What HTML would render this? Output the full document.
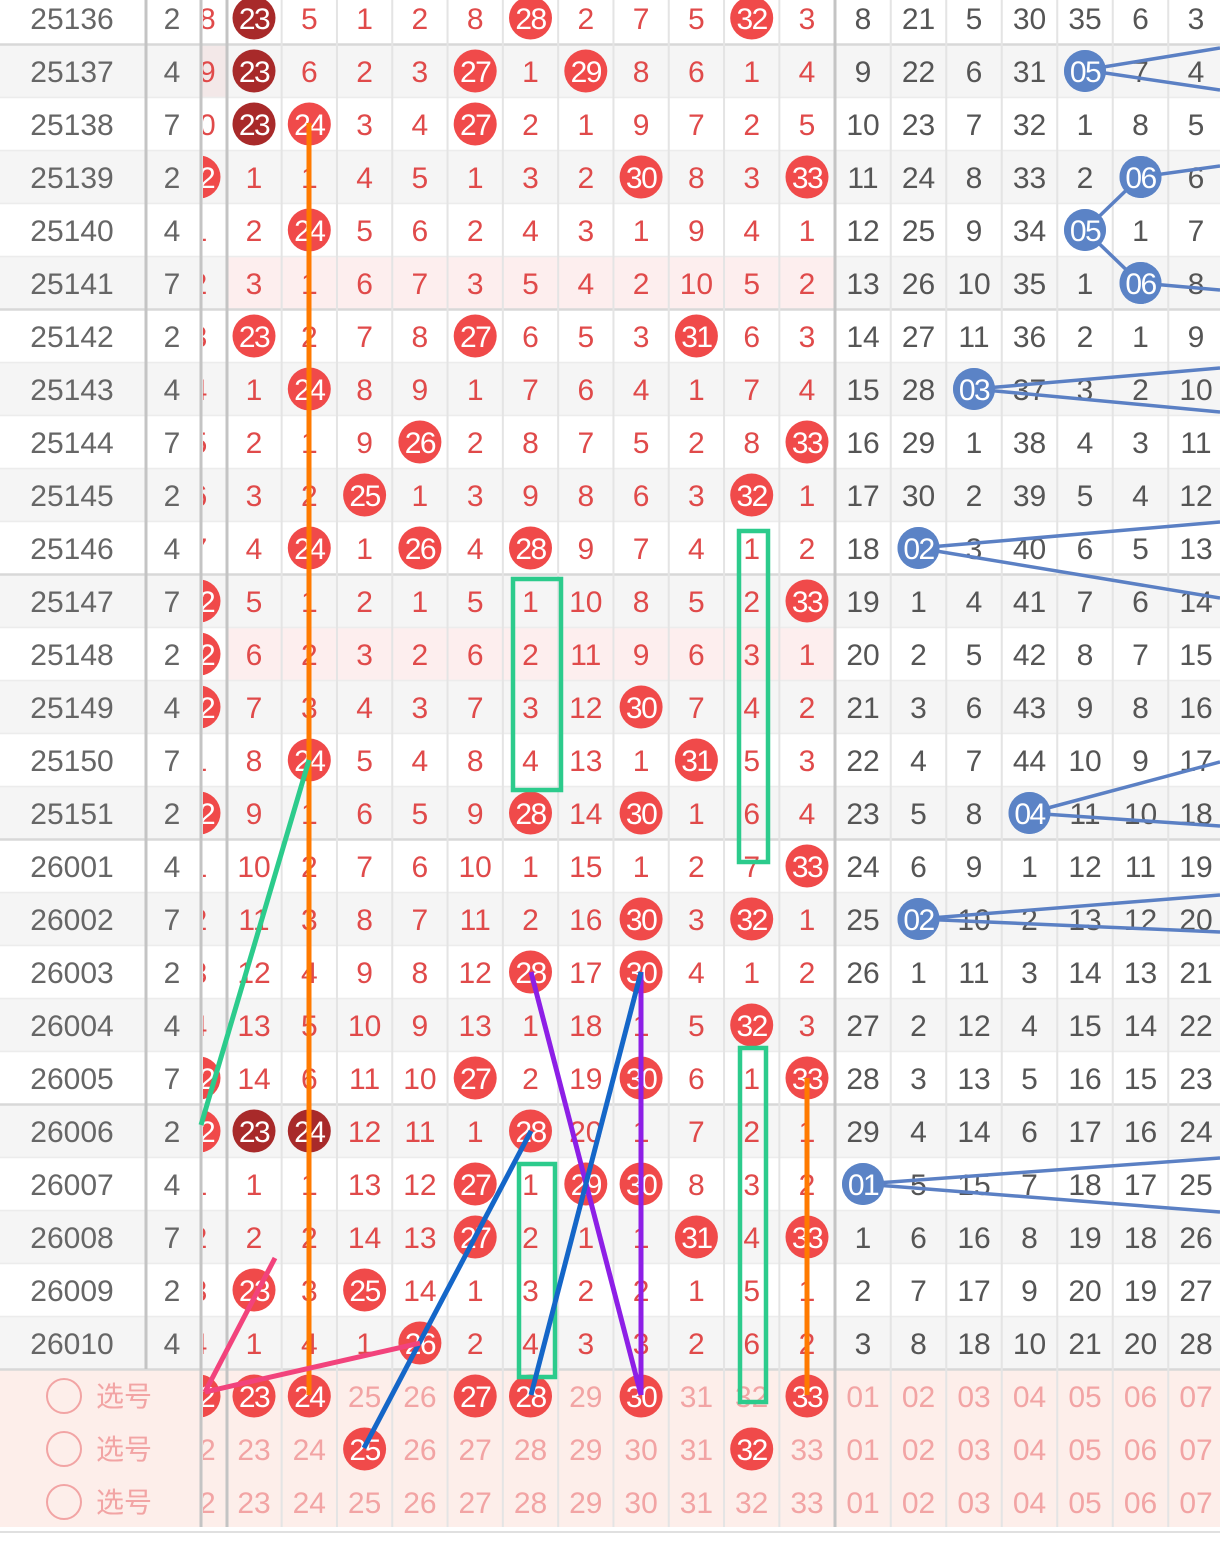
<!DOCTYPE html>
<html><head><meta charset="utf-8">
<style>
html,body{margin:0;padding:0;background:#fff;}
svg{display:block;}
text{font-family:"Liberation Sans","Noto Sans CJK SC",sans-serif;font-size:30px;text-anchor:middle;}
</style></head>
<body>
<svg id="s" width="1220" height="1549" xmlns="http://www.w3.org/2000/svg"></svg>
<script>
const S=document.getElementById('s');
let h='';
const rows=[
["25136","2","18","23#","5","1","2","8","28*","2","7","5","32*","3","8","21","5","30","35","6","3"],
["25137","4","19","23#","6","2","3","27*","1","29*","8","6","1","4","9","22","6","31","05*","7","4"],
["25138","7","20","23#","24*","3","4","27*","2","1","9","7","2","5","10","23","7","32","1","8","5"],
["25139","2","22*","1","1","4","5","1","3","2","30*","8","3","33*","11","24","8","33","2","06*","6"],
["25140","4","1","2","24*","5","6","2","4","3","1","9","4","1","12","25","9","34","05*","1","7"],
["25141","7","2","3","1","6","7","3","5","4","2","10","5","2","13","26","10","35","1","06*","8"],
["25142","2","3","23*","2","7","8","27*","6","5","3","31*","6","3","14","27","11","36","2","1","9"],
["25143","4","4","1","24*","8","9","1","7","6","4","1","7","4","15","28","03*","37","3","2","10"],
["25144","7","5","2","1","9","26*","2","8","7","5","2","8","33*","16","29","1","38","4","3","11"],
["25145","2","6","3","2","25*","1","3","9","8","6","3","32*","1","17","30","2","39","5","4","12"],
["25146","4","7","4","24*","1","26*","4","28*","9","7","4","1","2","18","02*","3","40","6","5","13"],
["25147","7","22*","5","1","2","1","5","1","10","8","5","2","33*","19","1","4","41","7","6","14"],
["25148","2","22*","6","2","3","2","6","2","11","9","6","3","1","20","2","5","42","8","7","15"],
["25149","4","22*","7","3","4","3","7","3","12","30*","7","4","2","21","3","6","43","9","8","16"],
["25150","7","1","8","24*","5","4","8","4","13","1","31*","5","3","22","4","7","44","10","9","17"],
["25151","2","22*","9","1","6","5","9","28*","14","30*","1","6","4","23","5","8","04*","11","10","18"],
["26001","4","1","10","2","7","6","10","1","15","1","2","7","33*","24","6","9","1","12","11","19"],
["26002","7","2","11","3","8","7","11","2","16","30*","3","32*","1","25","02*","10","2","13","12","20"],
["26003","2","3","12","4","9","8","12","28*","17","30*","4","1","2","26","1","11","3","14","13","21"],
["26004","4","4","13","5","10","9","13","1","18","1","5","32*","3","27","2","12","4","15","14","22"],
["26005","7","22*","14","6","11","10","27*","2","19","30*","6","1","33*","28","3","13","5","16","15","23"],
["26006","2","22*","23#","24#","12","11","1","28*","20","1","7","2","1","29","4","14","6","17","16","24"],
["26007","4","1","1","1","13","12","27*","1","29*","30*","8","3","2","01*","5","15","7","18","17","25"],
["26008","7","2","2","2","14","13","27*","2","1","1","31*","4","33*","1","6","16","8","19","18","26"],
["26009","2","3","23*","3","25*","14","1","3","2","2","1","5","1","2","7","17","9","20","19","27"],
["26010","4","4","1","4","1","26*","2","4","3","3","2","6","2","3","8","18","10","21","20","28"],
["","","22*","23*","24*","25","26","27*","28*","29","30*","31","32","33*","01","02","03","04","05","06","07"],
["","","22","23","24","25*","26","27","28","29","30","31","32*","33","01","02","03","04","05","06","07"],
["","","22","23","24","25","26","27","28","29","30","31","32","33","01","02","03","04","05","06","07"]
];
const cy=i=>18+53*i;
const rx=k=>k==0?199:254+55.3*(k-1);
const bx=j=>863+55.5*j;
for(let i=0;i<26;i++){const t=cy(i)-26.5;
 if(i%2==1)h+=`<rect x="0" y="${t}" width="1220" height="53" fill="#f5f5f5"/>`;
 if(i==5||i==12)h+=`<rect x="228" y="${t}" width="606" height="53" fill="#fdeeee"/>`;
 if(i==1)h+=`<rect x="202" y="${t}" width="25" height="53" fill="#f3e8e8"/>`;
}
h+=`<rect x="0" y="1369" width="1220" height="158" fill="#fdeeea"/>`;
for(let i=1;i<=26;i++){const y=cy(i)-26.5;const big=(i-1)%5==0;h+=`<line x1="0" x2="1220" y1="${y}" y2="${y}" stroke="${big?'#d8d8d8':'#ececec'}" stroke-width="${big?2.5:1.5}"/>`;}
h+=`<line x1="0" x2="1220" y1="1532" y2="1532" stroke="#e0e0e0" stroke-width="2"/>`;
for(let k=1;k<=10;k++){const x=(rx(k)+rx(k+1))/2;h+=`<line x1="${x}" x2="${x}" y1="0" y2="1527" stroke="#e4e4e4" stroke-width="2"/>`;}
for(let j=0;j<6;j++){const x=(bx(j)+bx(j+1))/2;h+=`<line x1="${x}" x2="${x}" y1="0" y2="1527" stroke="#e4e4e4" stroke-width="2"/>`;}
h+=`<defs><clipPath id="c"><rect x="203" y="0" width="23" height="1549"/></clipPath></defs>`;
function cell(x,y,v,kind,light,clip){
 let g='';const cl=clip?' clip-path="url(#c)"':'';
 let m=v.slice(-1),num=v.replace(/[*#]/g,'');
 if(m=='*'||m=='#'){
  const col=kind=='b'?'#5b83c6':(m=='#'?'#a82a2a':'#f04a4a');
  g+=`<g${cl}><circle cx="${x}" cy="${y}" r="${kind=='b'?21:21.5}" fill="${col}"/><text x="${x}" y="${y}" dy="0.36em" fill="#fff" letter-spacing="-1.5">${num}</text></g>`;
 }else{
  const col=light?'#f2a4a4':(kind=='b'?'#555':(kind=='g'?'#666':'#e04a4a'));
  g+=`<text${cl} x="${x}" y="${y}" dy="0.36em" fill="${col}">${num}</text>`;
 }
 return g;
}
rows.forEach((r,i)=>{const y=cy(i);const light=i>=26;
 if(i<26){h+=`<text x="72" y="${y}" dy="0.36em" fill="#666">${r[0]}</text><text x="172" y="${y}" dy="0.36em" fill="#666">${r[1]}</text>`;}
 else{h+=`<circle cx="64" cy="${y}" r="17" fill="none" stroke="#f2a4a4" stroke-width="2"/><text x="124" y="${y}" dy="0.36em" fill="#f2a4a4" style="font-size:28px">选号</text>`;}
 for(let k=0;k<12;k++)h+=cell(rx(k),y,r[2+k],'r',light,k==0);
 for(let j=0;j<7;j++)h+=cell(bx(j),y,r[14+j],'b',light,false);
});
h+=`<line x1="146" x2="146" y1="0" y2="1369" stroke="#c4c4c4" stroke-width="3"/>`;
h+=`<line x1="201" x2="201" y1="0" y2="1527" stroke="#c4c4c4" stroke-width="3"/>`;
h+=`<line x1="227" x2="227" y1="0" y2="1527" stroke="#c4c4c4" stroke-width="3"/>`;
h+=`<line x1="835" x2="835" y1="0" y2="1527" stroke="#c4c4c4" stroke-width="3"/>`;
const L=(x1,y1,x2,y2,c,w)=>h+=`<line x1="${x1}" y1="${y1}" x2="${x2}" y2="${y2}" stroke="${c}" stroke-width="${w||5}"/>`;
const G='#2ccb8c';
h+=`<rect x="513" y="579" width="48" height="211" fill="none" stroke="${G}" stroke-width="4.5"/>`;
h+=`<rect x="739" y="531" width="29" height="331" fill="none" stroke="${G}" stroke-width="4.5"/>`;
h+=`<rect x="519" y="1164" width="36" height="213" fill="none" stroke="${G}" stroke-width="4.5"/>`;
h+=`<rect x="740" y="1048" width="26" height="354" fill="none" stroke="${G}" stroke-width="4.5"/>`;
L(309,123,309,1395,'#ff7a00');
L(807,1078,807,1395,'#ff7a00');
L(309,760,201,1125,G);
L(531,972,641,1395,'#8d1fe6');
L(641,972,641,1395,'#8d1fe6');
L(641,972,531,1395,'#1466c8');
L(531,1131,364,1448,'#1466c8');
L(275,1258,205,1392,'#f2437c');
L(205,1392,420,1343,'#f2437c');
const B='#5b80c4';
L(1085,70,1220,48,B,3.5);L(1085,70,1220,90,B,3.5);
L(1140,177,1220,166,B,3.5);L(1085,230,1140,177,B,3.5);L(1085,230,1140,283,B,3.5);L(1140,283,1220,290,B,3.5);
L(974,389,1220,368,B,3.5);L(974,389,1220,412,B,3.5);
L(918,548,1220,522,B,3.5);L(918,548,1220,598,B,3.5);
L(1029,813,1220,762,B,3.5);L(1029,813,1220,826,B,3.5);
L(918,919,1220,895,B,3.5);L(918,919,1220,932,B,3.5);
L(863,1184,1220,1158,B,3.5);L(863,1184,1220,1212,B,3.5);
S.innerHTML=h;
let t='';
rows.forEach((r,i)=>{for(let j=0;j<7;j++){if(r[14+j].endsWith('*'))t+=cell(bx(j),cy(i),r[14+j],'b',false,false);}});
S.insertAdjacentHTML('beforeend',t);
</script>
</body></html>
